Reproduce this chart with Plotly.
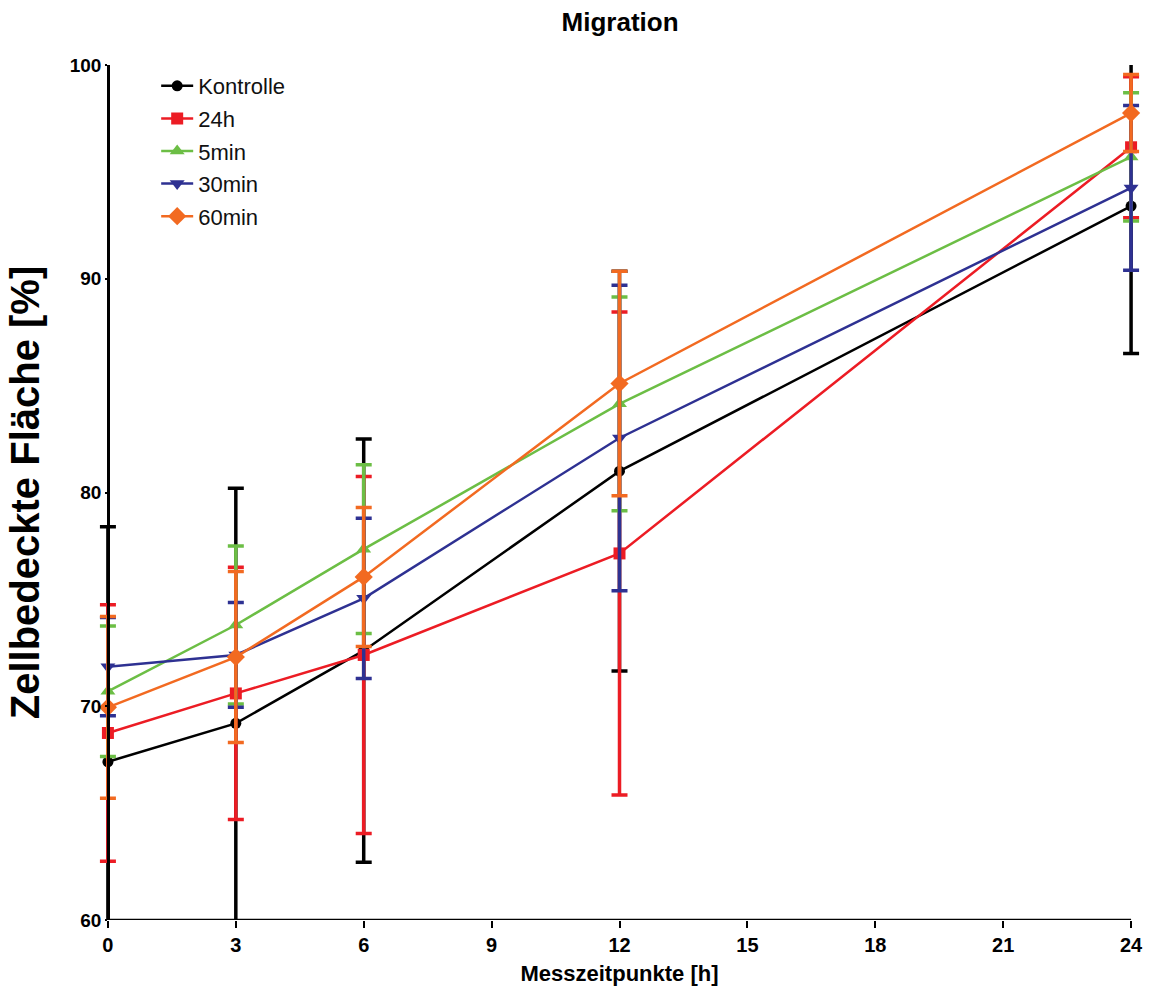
import plotly.graph_objects as go

x_hours = [0, 3, 6, 12, 24]
series_names = ["Kontrolle", "24h", "5min", "30min", "60min"]

kontrolle_mean = [67.4, 69.2, 72.6, 81.0, 93.4]
kontrolle_err = [11.0, 11.0, 9.9, 9.35, 6.9]

h24_mean = [68.75, 70.6, 72.4, 77.15, 96.15]
h24_err = [6.0, 5.9, 8.35, 11.3, 3.3]

min5_mean = [70.7, 73.8, 77.35, 84.15, 95.7]
min5_err = [3.05, 3.7, 3.95, 5.0, 3.0]

min30_mean = [71.85, 72.4, 75.05, 82.55, 94.25]
min30_err = [2.3, 2.45, 3.75, 7.15, 3.85]

min60_mean = [69.95, 72.3, 76.05, 85.1, 97.75]
min60_err = [4.25, 4.0, 3.25, 5.25, 1.8]

y_ticks = [60, 70, 80, 90, 100]
x_ticks = [0, 3, 6, 9, 12, 15, 18, 21, 24]

means = [kontrolle_mean, h24_mean, min5_mean, min30_mean, min60_mean]
errs = [kontrolle_err, h24_err, min5_err, min30_err, min60_err]
colors = ["#000000", "#EC1C24", "#6CBE45", "#2E3192", "#F26A21"]
symbols = ["circle", "square", "triangle-up", "triangle-down", "diamond"]
msizes = [11, 12, 13, 13, 14]

# small padding so caps/markers at the x ends are not clipped
x_min, x_max = 0, 24
pad = 0.35
x_range = [x_min - pad, x_max + pad]
y_axis_pos = pad / (x_range[1] - x_range[0])

fig = go.Figure()
for i, name in enumerate(series_names):
    fig.add_trace(go.Scatter(
        x=x_hours, y=means[i], name=name, mode="lines+markers",
        line=dict(color=colors[i], width=2.5),
        marker=dict(symbol=symbols[i], size=msizes[i], color=colors[i]),
        error_y=dict(type="data", array=errs[i], visible=True,
                     color=colors[i], thickness=3.5, width=8),
        cliponaxis=False, legendgroup=name,
    ))

# x axis baseline spanning exactly the data range
fig.add_shape(type="line", xref="x", yref="y", x0=x_min, x1=x_max, y0=60, y1=60,
              line=dict(color="black", width=2.5), layer="above")

fig.update_layout(
    width=1159, height=992,
    margin=dict(l=93, r=13, t=65, b=72),
    paper_bgcolor="white", plot_bgcolor="white",
    title=dict(text="<b>Migration</b>", x=0.535, xanchor="center", y=0.978, yanchor="middle",
               font=dict(family="Liberation Sans, Arial, sans-serif", size=26, color="black")),
    showlegend=True,
    legend=dict(x=0.06, y=1.0, xanchor="left", yanchor="top",
                font=dict(family="Liberation Sans, Arial, sans-serif", size=22, color="#111"),
                bgcolor="rgba(255,255,255,0)", tracegroupgap=1, itemwidth=32),
    font=dict(family="Liberation Sans, Arial, sans-serif", color="black"),
)
fig.update_xaxes(
    range=x_range, tickvals=x_ticks, ticktext=[f"<b>{v}</b>" for v in x_ticks],
    showgrid=False, zeroline=False, showline=False,
    ticks="outside", ticklen=7, tickwidth=2, tickcolor="black",
    tickfont=dict(family="Liberation Sans, Arial, sans-serif", size=20, color="black"),
    title=dict(text="<b>Messzeitpunkte [h]</b>", standoff=10,
               font=dict(family="Liberation Sans, Arial, sans-serif", size=22, color="black")),
)
fig.update_yaxes(
    range=[60, 100], tickvals=y_ticks, ticktext=[f"<b>{v}</b>" for v in y_ticks],
    anchor="free", position=y_axis_pos,
    showgrid=False, zeroline=False, showline=True, linecolor="black", linewidth=2.5,
    ticks="outside", ticklen=2, tickwidth=2, tickcolor="black",
    tickfont=dict(family="Liberation Sans, Arial, sans-serif", size=19, color="black"),
    title=dict(text="<b>Zellbedeckte Fläche [%]</b>", standoff=16,
               font=dict(family="Liberation Sans, Arial, sans-serif", size=40, color="black")),
)

fig.write_html("out.html")
